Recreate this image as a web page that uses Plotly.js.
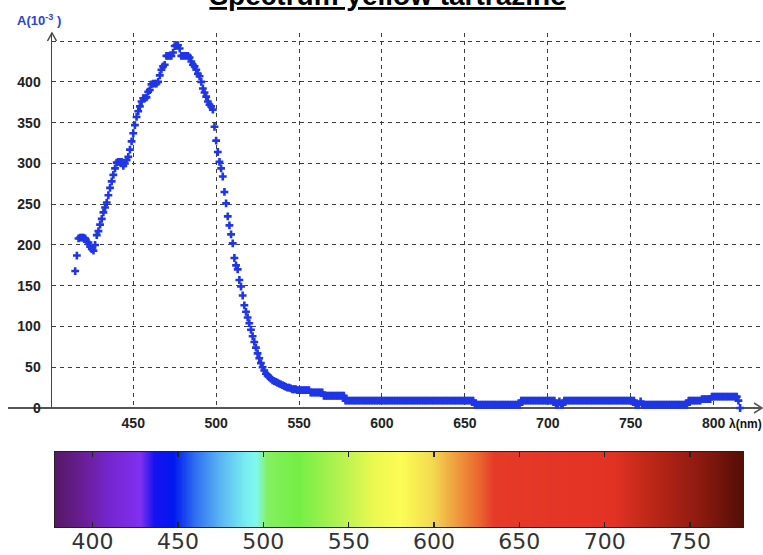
<!DOCTYPE html>
<html>
<head>
<meta charset="utf-8">
<script src="https://cdn.plot.ly/plotly-3.0.1.min.js"></script>
<style>html,body{margin:0;padding:0;background:#fff;}#chart{width:763px;height:555px;}</style>
</head>
<body>
<div id="chart"></div>
<script>
// ---- data ----
const lambdaStart = 415;   // nm, first sample
const lambdaStep = 1;      // nm between samples
const absorbance = [
  168,187,208,209,209,209,208,204,203,198,
  195,193,200,212,217,225,232,240,246,252,
  261,270,278,286,294,301,302,302,302,297,
  300,304,308,317,327,337,347,357,364,370,
  376,380,380,381,388,390,397,398,398,398,
  400,408,415,419,421,432,432,432,432,436,
  444,445,445,441,432,432,432,432,432,430,
  425,421,419,415,410,407,400,392,387,382,
  376,372,370,366,345,328,314,302,294,284,
  265,251,235,224,213,202,184,175,170,157,
  149,138,126,118,111,104,96,88,81,74,
  67,61,55,50,46,42,40,38,36,34,
  33,32,31,30,29,28,27,26,25,25,
  24,23,23,23,22,22,22,22,22,22,
  22,22,19,19,19,19,19,19,19,19,
  15,15,15,15,15,15,15,15,15,15,
  15,15,15,9,9,9,9,9,9,9,
  9,9,9,9,9,9,9,9,9,9,
  9,9,9,9,9,9,9,9,9,9,
  9,9,9,9,9,9,9,9,9,9,
  9,9,9,9,9,9,9,9,9,9,
  9,9,9,9,9,9,9,9,9,9,
  9,9,9,9,9,9,9,9,9,9,
  9,9,9,9,9,9,9,9,9,9,
  9,4,4,4,4,4,4,4,4,4,
  4,4,4,4,4,4,4,4,4,4,
  4,4,4,4,4,4,4,4,4,9,
  9,9,9,9,9,9,9,9,9,9,
  9,9,9,9,9,9,9,9,9,9,
  4,4,8,4,4,9,9,9,9,9,
  9,9,9,9,9,9,9,9,9,9,
  9,9,9,9,9,9,9,9,9,9,
  9,9,9,9,9,9,9,9,9,9,
  9,9,9,9,9,9,9,9,4,4,
  4,8,4,4,4,4,4,4,4,4,
  4,4,4,4,4,4,4,4,4,4,
  4,4,4,4,4,4,4,4,4,4,
  9,9,9,9,9,9,9,9,11,11,
  11,11,11,11,14,14,14,14,14,14,
  14,14,14,14,14,14,14,14,14,14,
  9,0
];
const xTickVals = [450,500,550,600,650,700,750,800];
const yTickVals = [0,50,100,150,200,250,300,350,400];
const yExtraGrid = [450];

// visible spectrum strip
const specWl = [375,382,395,410,428,436,447,460,475,490,496,502,520,545,565,580,598,612,625,635,705,725,755,785];
const specColors = ['#551868','#5a1a70','#6a1e98','#7626d0','#8030f0','#1812f0','#0018f0','#3070f0','#5cb8f2','#78eef0','#80f8ee','#84f060','#74ee44','#b4f250','#ecf850','#fcfc54','#f4dc50','#f0a040','#ea6a30','#e63a28','#e23224','#c02818','#8e1a10','#4a0c06'];
const specTickVals = [400,450,500,550,600,650,700,750];

// ---- build ----
const wlMin = specWl[0], wlMax = specWl[specWl.length - 1];
const specScale = specWl.map((w, i) => [(w - wlMin) / (wlMax - wlMin), specColors[i]]);

const traces = [
  {
    type: 'scatter', mode: 'markers',
    x0: lambdaStart, dx: lambdaStep, y: absorbance,
    marker: {symbol: 'cross', size: 6.5, color: '#1f36e6', line: {width: 0}},
    cliponaxis: false, hoverinfo: 'x+y', xaxis: 'x', yaxis: 'y'
  },
  {
    type: 'heatmap', x: specWl, y: [0, 1], z: [specWl, specWl],
    zmin: wlMin, zmax: wlMax, colorscale: specScale, zsmooth: 'best',
    showscale: false, hoverinfo: 'skip', xaxis: 'x2', yaxis: 'y2'
  }
];

const W = 763, H = 555;
const px = v => v / W;
const py = v => 1 - v / H;
const axisY = py(408);
const GRID = '#3c3c3c';
const DASH = '4px,4px';

const layout = {
  width: W, height: H,
  margin: {l: 0, r: 0, t: 0, b: 0},
  paper_bgcolor: '#ffffff', plot_bgcolor: 'rgba(0,0,0,0)',
  showlegend: false,
  title: {
    text: 'Spectrum yellow tartrazine',
    font: {family: 'Liberation Sans, Arial, sans-serif', size: 28, weight: 'bold', color: '#000000', lineposition: 'under'},
    xref: 'container', x: 0.508, xanchor: 'center',
    yref: 'container', y: py(5), yanchor: 'bottom'
  },
  xaxis: {
    domain: [px(52), px(760)], range: [401, 828], anchor: 'y',
    tickmode: 'array', tickvals: xTickVals,
    showgrid: true, gridcolor: GRID, gridwidth: 1, griddash: DASH,
    zeroline: false, showline: false, ticks: '',
    tickfont: {family: 'Liberation Sans, Arial, sans-serif', size: 14, weight: 'bold', color: '#222222'},
    ticklabelstandoff: 5, fixedrange: true
  },
  yaxis: {
    domain: [py(408), py(33)], range: [0, 460], anchor: 'x',
    tickmode: 'array', tickvals: yTickVals,
    showgrid: true, gridcolor: GRID, gridwidth: 1, griddash: DASH,
    minor: {tickmode: 'array', tickvals: yExtraGrid, showgrid: true, gridcolor: GRID, gridwidth: 1, griddash: DASH, ticks: ''},
    zeroline: false, showline: true, linecolor: '#444444', linewidth: 1.5, ticks: '',
    tickfont: {family: 'Liberation Sans, Arial, sans-serif', size: 14, weight: 'bold', color: '#222222'},
    ticklabelstandoff: 7, fixedrange: true
  },
  xaxis2: {
    domain: [px(55), px(743)], range: [378, 781], anchor: 'y2',
    tickmode: 'array', tickvals: specTickVals,
    ticks: 'inside', ticklen: 5, tickwidth: 1.2, tickcolor: '#222222',
    showline: true, mirror: 'allticks', linecolor: '#222222', linewidth: 1,
    showgrid: false, zeroline: false,
    tickfont: {family: 'DejaVu Sans, sans-serif', size: 22, color: '#333333'},
    ticklabelstandoff: -5, fixedrange: true
  },
  yaxis2: {
    domain: [py(527), py(452)], range: [0, 1], anchor: 'x2',
    showticklabels: false, ticks: '', showgrid: false, zeroline: false,
    showline: true, mirror: true, linecolor: '#222222', linewidth: 1, fixedrange: true
  },
  shapes: [
    {type: 'line', xref: 'paper', yref: 'paper', x0: px(8), x1: px(762), y0: axisY, y1: axisY,
     line: {color: '#555555', width: 2}, layer: 'below'},
    {type: 'path', xref: 'paper', yref: 'paper',
     path: `M ${px(754)},${py(403)} L ${px(762)},${py(408)} L ${px(754)},${py(413)}`,
     line: {color: '#555555', width: 1.5}},
    {type: 'path', xref: 'paper', yref: 'paper',
     path: `M ${px(47.5)},${py(41)} L ${px(52)},${py(33)} L ${px(56.5)},${py(41)}`,
     line: {color: '#444444', width: 1.5}}
  ],
  annotations: [
    {text: 'A(10<sup>-3</sup> )', xref: 'paper', yref: 'paper', x: px(15), y: py(20),
     xanchor: 'left', yanchor: 'middle', showarrow: false,
     font: {family: 'Liberation Sans, Arial, sans-serif', size: 13, weight: 'bold', color: '#2b45c8'}},
    {text: 'λ(nm)', xref: 'paper', yref: 'paper', x: px(727), y: py(424),
     xanchor: 'left', yanchor: 'middle', showarrow: false,
     font: {family: 'Liberation Sans, Arial, sans-serif', size: 12, weight: 'bold', color: '#111111'}}
  ]
};

Plotly.newPlot('chart', traces, layout, {staticPlot: true, displayModeBar: false});
</script>
</body>
</html>
